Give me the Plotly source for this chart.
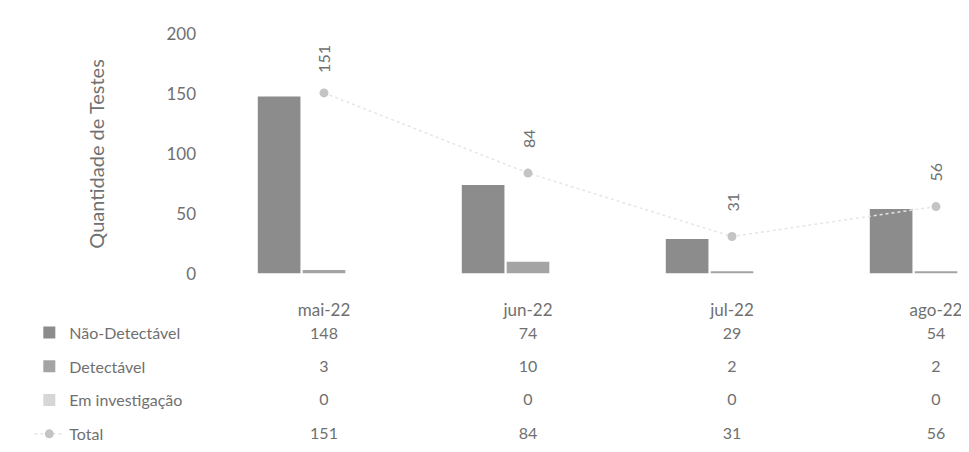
import plotly.graph_objects as go

# ---- data ----
months = ["mai-22", "jun-22", "jul-22", "ago-22"]
nao_detectavel = [148, 74, 29, 54]
detectavel = [3, 10, 2, 2]
em_investigacao = [0, 0, 0, 0]
total = [151, 84, 31, 56]
row_labels = ["Não-Detectável", "Detectável", "Em investigação", "Total"]
y_ticks = [0, 50, 100, 150, 200]

FONT = "Lato"
TXT = "#707070"
C_NAO = "#8c8c8c"
C_DET = "#a4a4a4"
C_INV = "#d6d6d6"
C_TOT = "#c4c4c4"

fig = go.Figure()

series = [
    (row_labels[0], nao_detectavel, C_NAO),
    (row_labels[1], detectavel, C_DET),
    (row_labels[2], em_investigacao, C_INV),
]
for i, (name, vals, col) in enumerate(series):
    fig.add_trace(go.Bar(
        x=months, y=vals, name=name, marker=dict(color=col, line=dict(width=0)),
        legendgroup=name, legendrank=i + 1, xaxis="x", yaxis="y",
    ))

fig.add_trace(go.Scatter(
    x=months, y=total, name=row_labels[3], mode="lines+markers",
    line=dict(color="#e6e6e6", width=1.5, dash="dot"),
    marker=dict(color=C_TOT, size=9),
    legendgroup="Total", legendrank=4, xaxis="x", yaxis="y",
))

# rotated total labels
for m, t in zip(months, total):
    fig.add_annotation(x=m, y=t, xref="x", yref="y", text=str(t), textangle=-90,
                       showarrow=False, yshift=34, font=dict(family=FONT, size=16, color=TXT))

# data table values
tx, ty, tt = [], [], []
series_vals = [nao_detectavel, detectavel, em_investigacao, total]
for r, vals in enumerate(series_vals):
    for m, v in zip(months, vals):
        tx.append(m)
        ty.append(r)
        tt.append(str(v))
fig.add_trace(go.Scatter(
    x=tx, y=ty, text=tt, mode="text", textposition="middle center",
    textfont=dict(family=FONT, size=16, color=TXT), showlegend=False,
    hoverinfo="skip", xaxis="x2", yaxis="y2",
))

W, H = 969, 452
x0 = 214 / W
xr = [-0.5, (W - 214) / 204 - 0.5]
fig.update_layout(
    width=W, height=H,
    margin=dict(l=0, r=0, t=0, b=0),
    paper_bgcolor="white", plot_bgcolor="white",
    font=dict(family=FONT, size=16, color=TXT),
    barmode="group", bargap=0.34, bargroupgap=0.05,
    showlegend=True,
    legend=dict(x=0.022, y=1 - 311 / H, xanchor="left", yanchor="top",
                tracegroupgap=10, font=dict(family=FONT, size=16, color=TXT),
                bgcolor="rgba(0,0,0,0)", itemwidth=30),
    xaxis=dict(domain=[x0, 1.0], range=xr, type="category",
               showgrid=False, showline=False, zeroline=False, ticks="",
               ticklabelstandoff=24, tickfont=dict(family=FONT, size=17, color=TXT),
               anchor="y"),
    yaxis=dict(domain=[1 - 267 / H, 1 - 16 / H], range=[0, 200], tickvals=y_ticks,
               showgrid=False, showline=False, zeroline=False, ticks="",
               ticklabelstandoff=25, tickfont=dict(family=FONT, size=17, color=TXT),
               title=dict(text="Quantidade de Testes", font=dict(family=FONT, size=20, color=TXT),
                          standoff=56),
               anchor="x"),
    xaxis2=dict(domain=[x0, 1.0], range=xr, type="category", matches="x",
                visible=False, anchor="y2"),
    yaxis2=dict(domain=[1 - 451.75 / H, 1 - 313.5 / H], range=[3.45, -0.5],
                visible=False, anchor="x2"),
)

fig.write_html("out.html")
